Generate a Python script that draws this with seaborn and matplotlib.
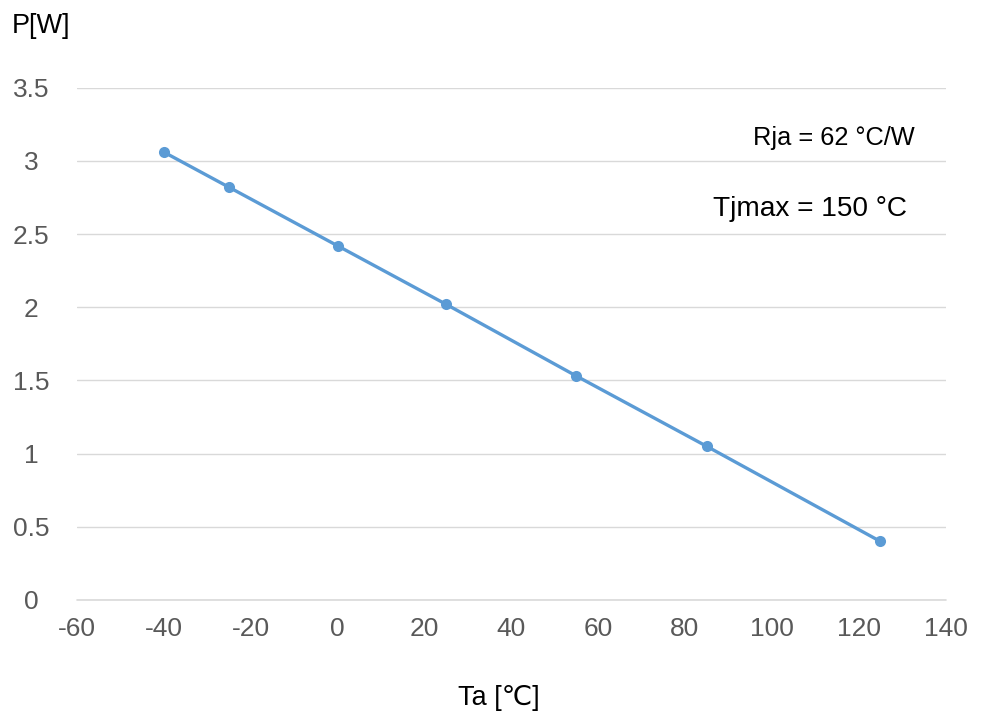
import matplotlib
matplotlib.use("Agg")
import matplotlib.pyplot as plt
import seaborn as sns
import pandas as pd

ta = [-40, -25, 0, 25, 55, 85, 125]
power = [3.06, 2.82, 2.42, 2.02, 1.53, 1.05, 0.40]
x_ticks = [-60, -40, -20, 0, 20, 40, 60, 80, 100, 120, 140]
y_ticks = [0, 0.5, 1, 1.5, 2, 2.5, 3, 3.5]
y_tick_labels = ["0", "0.5", "1", "1.5", "2", "2.5", "3", "3.5"]

sns.set_theme(style="white")
plt.rcParams['font.family'] = ['Liberation Sans', 'DejaVu Sans']

df = pd.DataFrame({"Ta": ta, "P": power})

fig = plt.figure(figsize=(9.87, 7.13), dpi=100)
ax = fig.add_axes([0.078, 0.1585, 0.88, 0.7185])

sns.lineplot(data=df, x="Ta", y="P", ax=ax, color="#5b9bd5", linewidth=2.4,
             marker="o", markersize=8, markeredgewidth=0, zorder=3)

ax.set_xlim(-60, 140)
ax.set_ylim(0, 3.5)
ax.set_xticks(x_ticks)
ax.set_xticklabels([str(v) for v in x_ticks])
ax.set_yticks(y_ticks)
ax.set_yticklabels(y_tick_labels)
ax.grid(axis="y", color="#d9d9d9", linewidth=1)
ax.grid(axis="x", visible=False)
ax.axhline(0, color="#d9d9d9", linewidth=1.2, clip_on=False, zorder=1)
for s in ax.spines.values():
    s.set_visible(False)
ax.tick_params(axis="both", length=0, labelsize=19, labelcolor="#595959")
ax.tick_params(axis="x", pad=12)
ax.tick_params(axis="y", pad=33)
for lab in ax.get_yticklabels():
    lab.set_horizontalalignment("center")
ax.set_xlabel("")
ax.set_ylabel("")

fig.text(12/987, 1 - 33/713, "P[W]", fontsize=19.5, color="black", ha="left", va="baseline")
fig.text(458/987, 1 - 705/713, "Ta [℃]", fontsize=19.5, color="black", ha="left", va="baseline")
fig.text(753/987, 1 - 145/713, "Rja = 62 °C/W", fontsize=18.3, color="black", ha="left", va="baseline")
fig.text(713/987, 1 - 216/713, "Tjmax = 150 °C", fontsize=20.2, color="black", ha="left", va="baseline")

fig.savefig("out.png", dpi=100)
